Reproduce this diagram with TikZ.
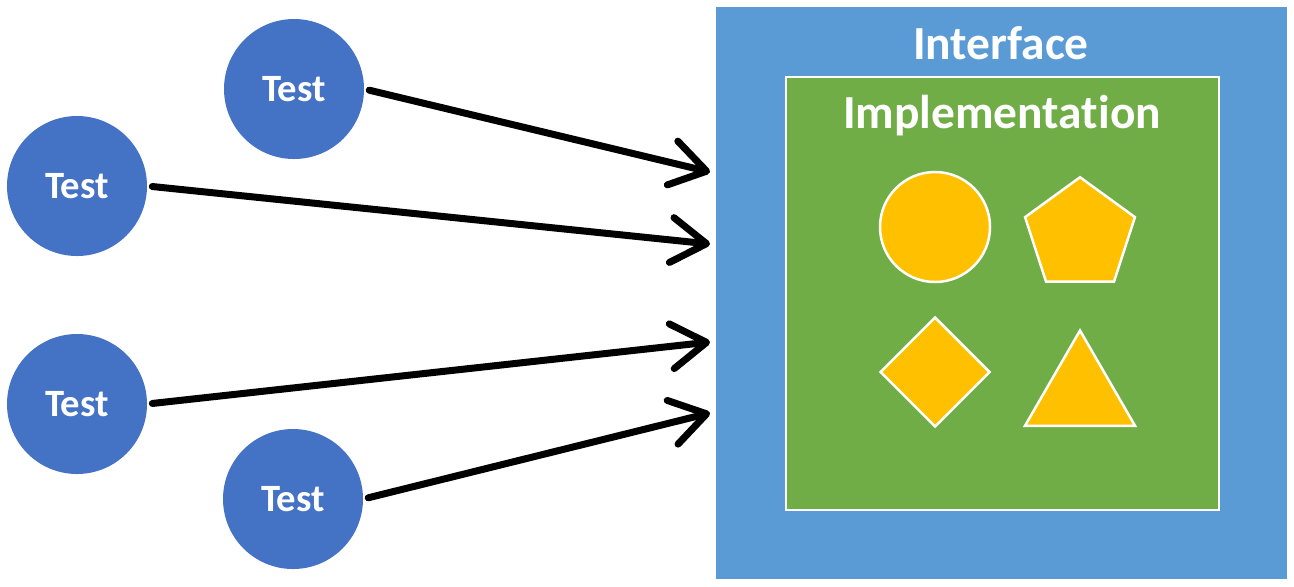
\documentclass[tikz,border=0pt]{standalone}
\usepackage{fontspec}
\setmainfont{Carlito}[Ligatures={NoCommon,NoRequired,NoContextual}]
\usetikzlibrary{shapes.geometric,arrows.meta}

\definecolor{testblue}{HTML}{4472C4}
\definecolor{ifaceblue}{HTML}{5B9BD5}
\definecolor{implgreen}{HTML}{70AD47}
\definecolor{shapegold}{HTML}{FFC000}

\tikzset{
  test/.style={circle,fill=testblue,minimum size=28mm,inner sep=0pt,
    text=white,font=\fontsize{22}{24}\selectfont\bfseries},
  gold/.style={fill=shapegold,draw=white,line width=0.5mm,inner sep=0pt},
  call/.style={line width=1.4mm,line cap=round,shorten <=1mm,
    -{Straight Barb[round,length=7mm,width=9mm]}},
  title/.style={text=white,font=\fontsize{27}{30}\selectfont\bfseries}
}

\begin{document}
\begin{tikzpicture}[x=0.2mm,y=-0.2mm]
\useasboundingbox (0,0) rectangle (1294,586);
% interface and implementation boxes
\fill[ifaceblue] (716,7) rectangle (1287,579);
\filldraw[fill=implgreen,draw=white,line width=0.5mm] (786,77) rectangle (1219,510);
\node[title] (iface) at (1001,43) {Interface};
\node[title] (impl) at (1002,116) {Implementation};

% shapes inside
\node[gold,circle,minimum size=22mm] (circ) at (935,227) {};
\node[gold,regular polygon,regular polygon sides=5,minimum size=23.1mm] (penta) at (1080,235) {};
\node[gold,diamond,minimum size=22mm] (diam) at (935,372) {};
\node[gold,regular polygon,regular polygon sides=3,minimum size=25.4mm] (tri) at (1080,394) {};

% tests
\node[test] (t1) at (294,89) {Test};
\node[test] (t2) at (77,186) {Test};
\node[test] (t3) at (77,404) {Test};
\node[test] (t4) at (293,499) {Test};

% ends of the calls
\coordinate (e1) at (710,172);
\coordinate (e2) at (710,244);
\coordinate (e3) at (710,342);
\coordinate (e4) at (710,413);

% Connections
\draw[call] (t1.east) -- (e1);
\draw[call] (t2.east) -- (e2);
\draw[call] (t3.east) -- (e3);
\draw[call] (t4.east) -- (e4);
\end{tikzpicture}
\end{document}
